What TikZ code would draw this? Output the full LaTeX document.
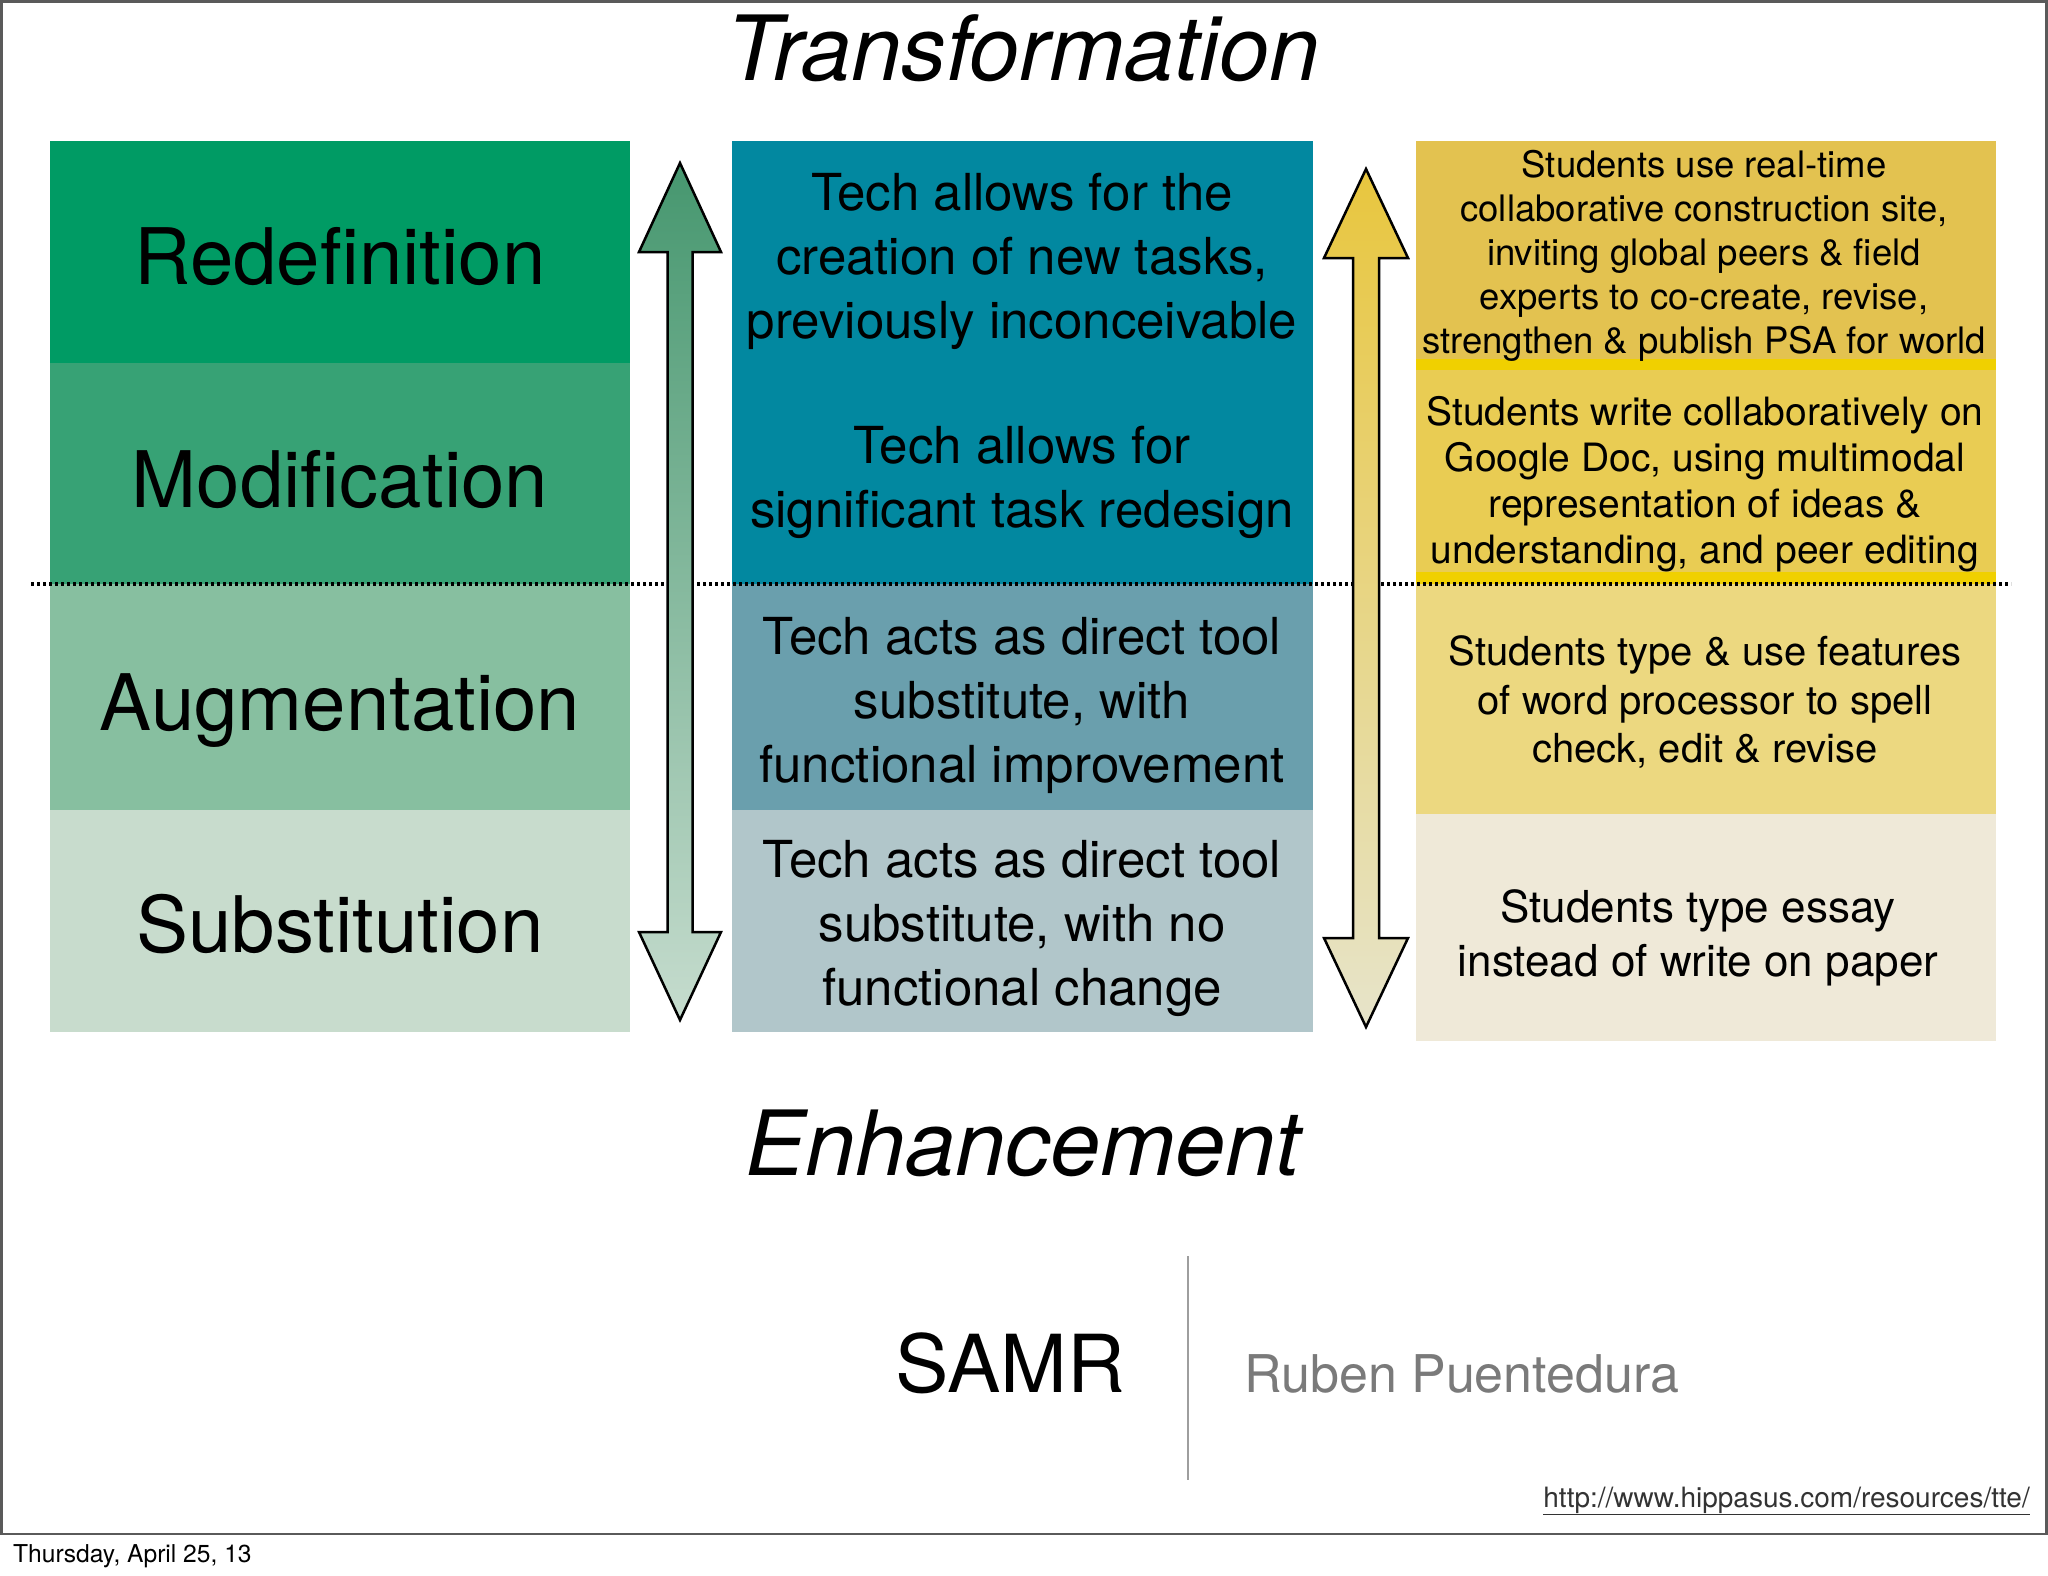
\documentclass[tikz,border=0pt]{standalone}
\usepackage{fontspec}
\setmainfont{TeX Gyre Heros}
\definecolor{colR}{HTML}{009B64}
\definecolor{colM}{HTML}{37A275}
\definecolor{colA}{HTML}{87BFA0}
\definecolor{colS}{HTML}{C8DCCD}
\definecolor{midT}{HTML}{0288A0}
\definecolor{midA}{HTML}{6A9FAD}
\definecolor{midS}{HTML}{B1C6CA}
\definecolor{yelA}{HTML}{E3C250}
\definecolor{yelB}{HTML}{E9CC53}
\definecolor{yelC}{HTML}{ECD880}
\definecolor{yelD}{HTML}{EFE9D8}
\definecolor{yelStrip}{HTML}{F0D000}
\definecolor{arrGtop}{HTML}{46976F}
\definecolor{arrGbot}{HTML}{C6DCCE}
\definecolor{arrYtop}{HTML}{E8C63E}
\definecolor{arrYbot}{HTML}{E7E4CA}
\definecolor{frameGray}{HTML}{5A5A5A}
\definecolor{authorGray}{HTML}{7A7A7A}
\begin{document}
\begin{tikzpicture}[x=1pt,y=-1pt,
  lvl/.style={font=\fontsize{78}{90}\selectfont, inner sep=0, anchor=base, text=black},
  midtxt/.style={font=\fontsize{51}{64}\selectfont, align=center, inner sep=0, text=black},
  ytxtA/.style={font=\fontsize{36.5}{44}\selectfont, align=center, inner sep=0, text=black},
  ytxtB/.style={font=\fontsize{39}{46}\selectfont, align=center, inner sep=0, text=black},
  ytxtC/.style={font=\fontsize{40}{48.5}\selectfont, align=center, inner sep=0, text=black},
  ytxtD/.style={font=\fontsize{44}{54}\selectfont, align=center, inner sep=0, text=black},
  bigital/.style={font=\fontsize{90}{100}\selectfont\itshape, inner sep=0, anchor=base},
  blockarrow/.style={line width=2.5pt, draw=black, line join=miter}
]
\useasboundingbox (0,0) rectangle (2048,1576);
\fill[white] (0,0) rectangle (2048,1576);

% slide frame
\draw[frameGray, line width=2.5pt] (1.5,1.5) rectangle (2046.5,1534);

% left column
\fill[colR] (50,141) rectangle (630,363);
\fill[colM] (50,363) rectangle (630,584);
\fill[colA] (50,584) rectangle (630,810);
\fill[colS] (50,810) rectangle (630,1032);

% middle column
\fill[midT] (732,141) rectangle (1313,584);
\fill[midA] (732,584) rectangle (1313,810);
\fill[midS] (732,810) rectangle (1313,1032);

% right column
\fill[yelA] (1416,141) rectangle (1996,370);
\fill[yelStrip] (1416,359) rectangle (1996,370);
\fill[yelB] (1416,370) rectangle (1996,584);
\fill[yelStrip] (1416,572) rectangle (1996,584);
\fill[yelC] (1416,584) rectangle (1996,814);
\fill[yelD] (1416,814) rectangle (1996,1041);

% dotted divider
\draw[black, line width=4.5pt, dash pattern=on 3.2pt off 2.8pt] (31,584) -- (2011,584);

% block arrows
\shadedraw[blockarrow, top color=arrGtop, bottom color=arrGbot]
  (680,163) -- (721,252) -- (692.5,252) -- (692.5,932) -- (721,932) -- (680,1020)
  -- (639,932) -- (667.5,932) -- (667.5,252) -- (639,252) -- cycle;
\shadedraw[blockarrow, top color=arrYtop, bottom color=arrYbot]
  (1366,169) -- (1408,258) -- (1379,258) -- (1379,938) -- (1408,938) -- (1366,1027)
  -- (1324,938) -- (1353,938) -- (1353,258) -- (1324,258) -- cycle;

% titles
\node[bigital] (title) at (1023,81) {Transformation};
\node[bigital] (enh) at (1023,1175) {Enhancement};

% left labels
\node[lvl] (lR) at (340,284) {Redefinition};
\node[lvl] (lM) at (340,507) {Modification};
\node[lvl] (lA) at (340,730) {Augmentation};
\node[lvl] (lS) at (340,952) {Substitution};

% middle texts
\node[midtxt] (m1) at (1022,261) {Tech allows for the\\creation of new tasks,\\previously inconceivable};
\node[midtxt] (m2) at (1022,482) {Tech allows for\\significant task redesign};
\node[midtxt] (m3) at (1022,705) {Tech acts as direct tool\\substitute, with\\functional improvement};
\node[midtxt] (m4) at (1022,928) {Tech acts as direct tool\\substitute, with no\\functional change};

% right texts
\node[ytxtA] (y1) at (1704,256) {Students use real-time\\collaborative construction site,\\inviting global peers \& field\\experts to co-create, revise,\\strengthen \& publish PSA for world};
\node[ytxtB] (y2) at (1705,484) {Students write collaboratively on\\Google Doc, using multimodal\\representation of ideas \&\\understanding, and peer editing};
\node[ytxtC] (y3) at (1705,702) {Students type \& use features\\of word processor to spell\\check, edit \& revise};
\node[ytxtD] (y4) at (1698,938) {Students type essay\\instead of write on paper};

% footer
\node[font=\fontsize{80}{90}\selectfont, inner sep=0, anchor=base] (samr) at (1010,1392) {SAMR};
\coordinate (vtop) at (1188,1256);
\coordinate (vbot) at (1188,1480);
\draw[black!38, line width=2pt] (vtop) -- (vbot);
\node[font=\fontsize{52}{60}\selectfont, text=authorGray, inner sep=0, anchor=base west] (author) at (1244,1392) {Ruben Puentedura};
\node[font=\fontsize{28}{32}\selectfont, text=black!80, inner sep=0, anchor=base east] (url) at (2030,1507) {\underline{http://www.hippasus.com/resources/tte/}};
\node[font=\fontsize{24.6}{28}\selectfont, text=black, inner sep=0, anchor=base west] (date) at (13,1562) {Thursday, April 25, 13};
\end{tikzpicture}
\end{document}
